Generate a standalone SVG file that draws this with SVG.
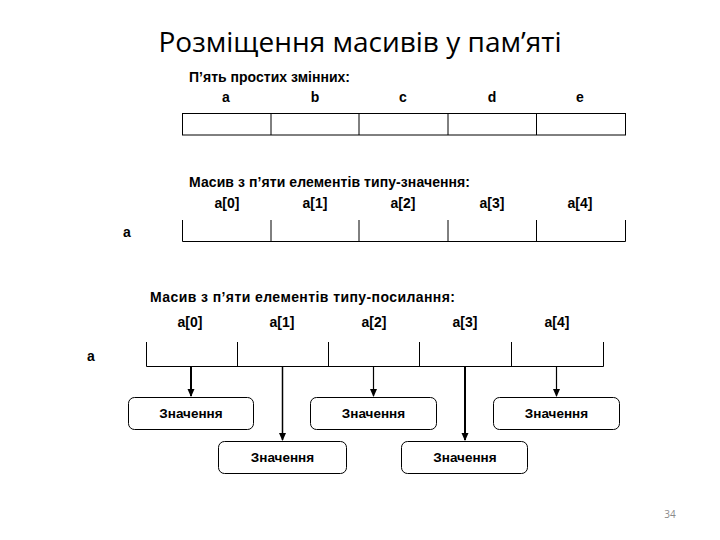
<svg xmlns="http://www.w3.org/2000/svg" width="720" height="540" viewBox="0 0 720 540">
<style>
.t{font-family:"Liberation Sans",Arial,sans-serif;font-size:14px;font-weight:bold;fill:#000}
.v{font-size:13.5px}
.c{text-anchor:middle}
.ln{stroke:#000;stroke-width:1;fill:none}
.box{fill:#fff;stroke:#000;stroke-width:1}
</style>
<defs>
<marker id="tri" markerWidth="8" markerHeight="8" refX="7" refY="4" orient="auto" markerUnits="userSpaceOnUse" viewBox="0 0 8 8">
<path d="M0,0.5 L8,4 L0,7.5 z" fill="#000"/>
</marker>
</defs>
<rect width="720" height="540" fill="#fff"/>
<text x="360" y="52" text-anchor="middle" font-family="'Open Sans','Noto Sans',sans-serif" font-size="28" fill="#000">Розміщення масивів у пам’яті</text>

<g id="row1">
<text class="t" x="189" y="82" textLength="161">П’ять простих змінних:</text>
<text class="t c" x="226" y="102">a</text>
<text class="t c" x="315" y="102">b</text>
<text class="t c" x="403" y="102">c</text>
<text class="t c" x="492" y="102">d</text>
<text class="t c" x="580" y="102">e</text>
<rect class="ln" x="182.5" y="113.5" width="443" height="21.5"/>
<path class="ln" d="M271,113.5V135M359,113.5V135M448,113.5V135M536.5,113.5V135"/>
</g>

<g id="row2">
<text class="t" x="189" y="187" textLength="281">Масив з п’яти елементів типу-значення:</text>
<text class="t c" x="227" y="208">a[0]</text>
<text class="t c" x="315" y="208">a[1]</text>
<text class="t c" x="403" y="208">a[2]</text>
<text class="t c" x="492" y="208">a[3]</text>
<text class="t c" x="580" y="208">a[4]</text>
<text class="t c" x="127" y="237">a</text>
<path class="ln" d="M182.5,220V241.5H625.5V220M271,220V241.5M359,220V241.5M448,220V241.5M536.5,220V241.5"/>
</g>

<g id="row3">
<text class="t" x="150" y="302" textLength="305">Масив з п’яти елементів типу-посилання:</text>
<text class="t c" x="190" y="327">a[0]</text>
<text class="t c" x="282" y="327">a[1]</text>
<text class="t c" x="374" y="327">a[2]</text>
<text class="t c" x="465" y="327">a[3]</text>
<text class="t c" x="557" y="327">a[4]</text>
<text class="t c" x="91" y="361">a</text>
<path class="ln" d="M146.5,342V366.5H603.5V342M237.5,342V366.5M328.5,342V366.5M419.5,342V366.5M511.5,342V366.5"/>
</g>

<g id="connectors">
<line x1="191" y1="366.5" x2="191" y2="396" stroke="#000" stroke-width="2" marker-end="url(#tri)"/>
<line x1="282.5" y1="366.5" x2="282.5" y2="440" stroke="#000" stroke-width="1.5" marker-end="url(#tri)"/>
<line x1="373.5" y1="366.5" x2="373.5" y2="396" stroke="#000" stroke-width="1.2" marker-end="url(#tri)"/>
<line x1="465" y1="366.5" x2="465" y2="440" stroke="#000" stroke-width="2" marker-end="url(#tri)"/>
<line x1="556.5" y1="366.5" x2="556.5" y2="396" stroke="#000" stroke-width="1.2" marker-end="url(#tri)"/>
</g>

<g id="v0">
<rect class="box" x="128.5" y="397.5" width="125" height="32" rx="6"/>
<text class="t v c" x="191" y="418">Значення</text>
</g>
<g id="v1">
<rect class="box" x="218.5" y="441.5" width="128" height="32" rx="6"/>
<text class="t v c" x="282.5" y="462">Значення</text>
</g>
<g id="v2">
<rect class="box" x="310.5" y="397.5" width="126" height="32" rx="6"/>
<text class="t v c" x="373.5" y="418">Значення</text>
</g>
<g id="v3">
<rect class="box" x="401.5" y="441.5" width="126" height="32" rx="6"/>
<text class="t v c" x="465" y="462">Значення</text>
</g>
<g id="v4">
<rect class="box" x="493.5" y="397.5" width="126" height="32" rx="6"/>
<text class="t v c" x="556.5" y="418">Значення</text>
</g>

<text x="670" y="518" text-anchor="middle" font-family="'Open Sans',sans-serif" font-size="10" fill="#8a8a8a">34</text>
</svg>
